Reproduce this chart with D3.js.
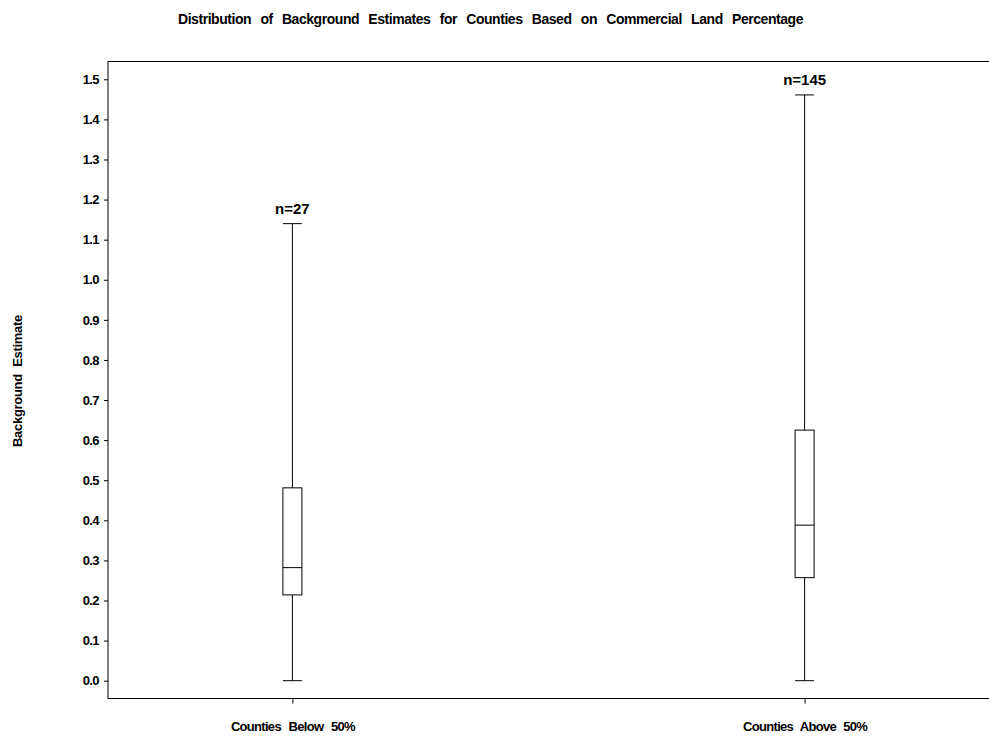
<!DOCTYPE html>
<html>
<head>
<meta charset="utf-8">
<script src="https://cdn.jsdelivr.net/npm/d3@7"></script>
<style>
  html, body { margin: 0; padding: 0; background: #fff; }
  svg text { font-family: "Liberation Sans", Arial, Helvetica, sans-serif; font-weight: bold; fill: #000; }
</style>
</head>
<body>
<svg id="chart" width="989" height="738"></svg>
<script>
// Box-plot summary for each group
const categories = ["Counties Below 50%", "Counties Above 50%"];
const mins      = [0.0, 0.0];
const q1s       = [0.214, 0.257];
const medians   = [0.282, 0.388];
const q3s       = [0.481, 0.625];
const maxs      = [1.140, 1.461];
const counts    = [27, 145];
const yTicks    = [0.0, 0.1, 0.2, 0.3, 0.4, 0.5, 0.6, 0.7, 0.8, 0.9, 1.0, 1.1, 1.2, 1.3, 1.4, 1.5];

const title = "Distribution of Background Estimates for Counties Based on Commercial Land Percentage";
const yTitle = "Background Estimate";

const svg = d3.select("#chart");
const plotLeft = 108, plotRight = 989, plotTop = 61.5, plotBottom = 698.5;

const y = d3.scaleLinear().domain([0, 1.5]).range([680.7, 79.3]);
const x = d3.scalePoint().domain(categories).range([plotLeft, plotRight]).padding(0.36);

// Tight letters, wide word gaps: widen the spaces until the label spans `width`
function spread(sel, width) {
  sel.each(function () {
    const t = d3.select(this);
    const natural = this.getComputedTextLength();
    const gaps = (t.text().match(/ /g) || []).length;
    if (gaps) t.attr("word-spacing", Math.max(0, (width - natural) / gaps));
  });
}

// Title
svg.append("text")
  .attr("x", 490.5).attr("y", 24)
  .attr("text-anchor", "middle")
  .attr("font-size", 14).attr("letter-spacing", -0.45)
  .text(title)
  .call(spread, 625);

// Top rule of the frame
svg.append("line").attr("x1", plotLeft).attr("x2", plotRight).attr("y1", plotTop).attr("y2", plotTop)
  .attr("stroke", "#000").attr("stroke-width", 1);

// Y axis
const yAxis = d3.axisLeft(y).tickValues(yTicks).tickFormat(d3.format(".1f")).tickSizeOuter(0).tickSize(4).tickPadding(5);
const gy = svg.append("g").attr("transform", `translate(${plotLeft},0)`).call(yAxis);
gy.select(".domain").remove();
gy.append("line").attr("x1", 0).attr("x2", 0).attr("y1", plotTop).attr("y2", plotBottom).attr("stroke", "#000");
gy.selectAll("text").attr("font-size", 13).attr("letter-spacing", -0.6).attr("fill", "#000");

// X axis
const xAxis = d3.axisBottom(x).tickSize(5).tickSizeOuter(0).tickPadding(18);
const gx = svg.append("g").attr("transform", `translate(0,${plotBottom})`).call(xAxis);
gx.select(".domain").remove();
gx.append("line").attr("x1", plotLeft).attr("x2", plotRight).attr("y1", 0).attr("y2", 0).attr("stroke", "#000");
gx.selectAll("text").attr("font-size", 13).attr("letter-spacing", -0.7).attr("fill", "#000")
  .call(spread, 124);

// Y title
svg.append("text")
  .attr("transform", "translate(22,381) rotate(-90)")
  .attr("text-anchor", "middle")
  .attr("font-size", 13).attr("letter-spacing", -0.3)
  .text(yTitle)
  .call(spread, 132);

// Boxes
const boxW = 19, capW = 19;
const data = categories.map((c, i) => ({c, min: mins[i], q1: q1s[i], med: medians[i], q3: q3s[i], max: maxs[i], n: counts[i]}));
const g = svg.append("g").selectAll("g").data(data).join("g")
  .attr("transform", d => `translate(${x(d.c)},0)`);

g.append("line").attr("x1", 0).attr("x2", 0).attr("y1", d => y(d.max)).attr("y2", d => y(d.q3)).attr("stroke", "#000");
g.append("line").attr("x1", 0).attr("x2", 0).attr("y1", d => y(d.q1)).attr("y2", d => y(d.min)).attr("stroke", "#000");
g.append("line").attr("x1", -capW / 2).attr("x2", capW / 2).attr("y1", d => y(d.max)).attr("y2", d => y(d.max)).attr("stroke", "#000");
g.append("line").attr("x1", -capW / 2).attr("x2", capW / 2).attr("y1", d => y(d.min)).attr("y2", d => y(d.min)).attr("stroke", "#000");
g.append("rect").attr("x", -boxW / 2).attr("width", boxW)
  .attr("y", d => y(d.q3)).attr("height", d => y(d.q1) - y(d.q3))
  .attr("fill", "none").attr("stroke", "#000");
g.append("line").attr("x1", -boxW / 2).attr("x2", boxW / 2).attr("y1", d => y(d.med)).attr("y2", d => y(d.med)).attr("stroke", "#000");

g.append("text")
  .attr("x", 0).attr("y", d => y(d.max) - 10)
  .attr("text-anchor", "middle").attr("font-size", 15).attr("letter-spacing", 0)
  .text(d => `n=${d.n}`);
</script>
</body>
</html>
